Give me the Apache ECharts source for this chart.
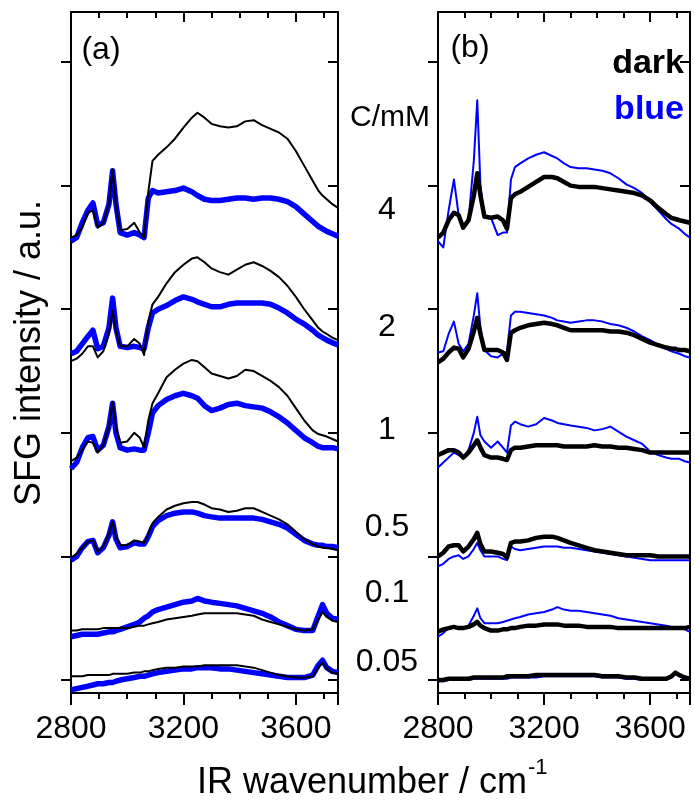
<!DOCTYPE html>
<html><head><meta charset="utf-8">
<script src="https://cdn.jsdelivr.net/npm/echarts@6/dist/echarts.min.js"></script>
<style>html,body{margin:0;padding:0;background:#fff}#c{width:695px;height:803px}</style>
</head><body><div id="c"></div>
<script>
// IR wavenumber sample points (cm-1)
const W = [2800,2820,2840,2860,2878,2895,2915,2935,2948,2960,2975,3000,3025,3045,3060,3075,3090,3110,3140,3170,3200,3230,3250,3275,3300,3330,3360,3390,3420,3450,3480,3510,3540,3570,3600,3630,3660,3680,3695,3710,3730,3750];
const xTicks = [2800,3200,3600];
const concLabels = ['4','2','1','0.5','0.1','0.05'];
// Panel (a): offset SFG spectra
const aDark4 = [3.58,3.60,3.66,3.78,3.80,3.66,3.70,3.85,4.13,3.85,3.64,3.65,3.70,3.62,3.58,3.95,4.20,4.25,4.31,4.38,4.47,4.55,4.59,4.55,4.50,4.48,4.47,4.48,4.52,4.53,4.49,4.46,4.43,4.38,4.28,4.16,4.04,3.96,3.92,3.89,3.85,3.82];
const aBlue4 = [3.55,3.58,3.70,3.80,3.86,3.68,3.70,3.85,4.12,3.85,3.62,3.60,3.62,3.60,3.58,3.90,3.96,3.94,3.95,3.96,3.98,3.95,3.92,3.89,3.88,3.88,3.89,3.90,3.90,3.89,3.90,3.90,3.89,3.87,3.83,3.77,3.71,3.67,3.65,3.63,3.61,3.59];
const aDark2 = [2.58,2.60,2.64,2.70,2.70,2.61,2.66,2.80,2.99,2.82,2.70,2.70,2.76,2.72,2.63,2.90,3.04,3.10,3.21,3.30,3.36,3.41,3.42,3.38,3.33,3.30,3.28,3.32,3.36,3.38,3.35,3.31,3.26,3.19,3.10,3.00,2.91,2.85,2.82,2.80,2.77,2.75];
const aBlue2 = [2.64,2.66,2.72,2.78,2.83,2.68,2.70,2.85,3.09,2.85,2.70,2.69,2.70,2.69,2.68,2.85,2.97,3.00,3.03,3.07,3.10,3.08,3.06,3.04,3.02,3.02,3.04,3.05,3.05,3.05,3.05,3.04,3.01,2.97,2.92,2.88,2.83,2.79,2.77,2.75,2.73,2.71];
const aDark1 = [1.77,1.80,1.86,1.93,1.92,1.84,1.90,2.05,2.25,2.05,1.92,1.93,2.00,1.96,1.88,2.10,2.24,2.32,2.45,2.51,2.56,2.59,2.58,2.53,2.48,2.46,2.44,2.46,2.51,2.50,2.46,2.42,2.37,2.30,2.20,2.10,2.02,1.99,1.98,1.97,1.95,1.93];
const aBlue1 = [1.71,1.76,1.88,1.96,1.97,1.86,1.90,2.05,2.24,2.00,1.88,1.86,1.87,1.86,1.86,2.00,2.16,2.22,2.27,2.30,2.32,2.30,2.28,2.22,2.18,2.20,2.23,2.24,2.22,2.21,2.20,2.17,2.13,2.08,2.02,1.96,1.92,1.89,1.88,1.88,1.88,1.87];
const aDark05 = [0.99,1.02,1.07,1.12,1.13,1.04,1.08,1.18,1.28,1.16,1.09,1.09,1.13,1.12,1.11,1.18,1.27,1.32,1.38,1.41,1.43,1.44,1.44,1.42,1.39,1.38,1.36,1.37,1.39,1.39,1.36,1.33,1.30,1.26,1.20,1.14,1.10,1.08,1.07,1.07,1.06,1.05];
const aBlue05 = [0.97,1.00,1.07,1.12,1.13,1.03,1.07,1.17,1.28,1.14,1.07,1.08,1.11,1.10,1.10,1.16,1.24,1.29,1.33,1.35,1.36,1.36,1.35,1.33,1.32,1.31,1.31,1.31,1.31,1.31,1.30,1.28,1.26,1.23,1.18,1.13,1.10,1.09,1.09,1.08,1.08,1.07];
const aDark01 = [0.40,0.40,0.41,0.41,0.41,0.41,0.42,0.42,0.42,0.42,0.42,0.42,0.43,0.44,0.44,0.45,0.46,0.47,0.49,0.50,0.51,0.52,0.53,0.54,0.54,0.54,0.54,0.54,0.53,0.52,0.49,0.47,0.45,0.43,0.41,0.40,0.41,0.49,0.55,0.51,0.48,0.47];
const aBlue01 = [0.35,0.36,0.37,0.37,0.37,0.37,0.38,0.39,0.39,0.40,0.41,0.43,0.45,0.47,0.50,0.52,0.55,0.57,0.59,0.61,0.63,0.64,0.66,0.64,0.63,0.62,0.61,0.60,0.58,0.56,0.54,0.51,0.47,0.44,0.41,0.40,0.40,0.52,0.61,0.54,0.50,0.49];
const aDark005 = [0.03,0.03,0.03,0.04,0.04,0.04,0.04,0.04,0.05,0.05,0.05,0.05,0.06,0.06,0.07,0.07,0.08,0.09,0.10,0.10,0.11,0.11,0.11,0.12,0.12,0.12,0.12,0.12,0.11,0.10,0.08,0.06,0.04,0.03,0.02,0.02,0.03,0.10,0.14,0.09,0.06,0.05];
const aBlue005 = [-0.08,-0.07,-0.06,-0.05,-0.04,-0.03,-0.03,-0.02,-0.02,-0.01,0.00,0.01,0.02,0.03,0.03,0.04,0.05,0.06,0.07,0.08,0.09,0.09,0.10,0.10,0.10,0.09,0.09,0.08,0.07,0.06,0.05,0.04,0.03,0.02,0.02,0.02,0.04,0.12,0.16,0.10,0.07,0.06];
// Panel (b): offset SFG spectra
const bDark4 = [3.58,3.62,3.72,3.78,3.76,3.66,3.72,3.92,4.10,3.92,3.75,3.74,3.75,3.72,3.65,3.90,3.93,3.95,3.99,4.03,4.07,4.07,4.06,4.03,4.00,3.99,3.99,3.99,3.98,3.97,3.96,3.95,3.94,3.92,3.88,3.82,3.77,3.74,3.73,3.72,3.71,3.70];
const bBlue4 = [3.55,3.50,3.80,4.05,3.76,3.66,3.72,4.20,4.69,4.00,3.74,3.74,3.60,3.62,3.62,4.05,4.15,4.18,4.22,4.25,4.27,4.24,4.22,4.18,4.15,4.14,4.14,4.13,4.12,4.10,4.06,4.01,3.98,3.94,3.87,3.80,3.73,3.69,3.67,3.65,3.61,3.58];
const bDark2 = [2.57,2.60,2.65,2.69,2.68,2.61,2.68,2.82,2.93,2.80,2.67,2.67,2.67,2.65,2.59,2.81,2.83,2.85,2.87,2.88,2.89,2.88,2.87,2.85,2.83,2.83,2.83,2.83,2.83,2.82,2.82,2.81,2.79,2.76,2.73,2.71,2.69,2.68,2.68,2.67,2.67,2.66];
const bBlue2 = [2.65,2.66,2.80,2.90,2.72,2.66,2.72,2.95,3.13,2.85,2.67,2.62,2.61,2.64,2.66,2.95,2.98,2.98,2.97,2.96,2.95,2.93,2.91,2.90,2.89,2.90,2.91,2.91,2.90,2.88,2.87,2.85,2.82,2.78,2.75,2.71,2.68,2.66,2.65,2.64,2.62,2.61];
const bDark1 = [1.82,1.84,1.86,1.86,1.84,1.80,1.84,1.90,1.94,1.88,1.82,1.80,1.80,1.79,1.78,1.86,1.88,1.88,1.89,1.90,1.90,1.90,1.90,1.89,1.89,1.89,1.89,1.90,1.89,1.89,1.88,1.88,1.87,1.86,1.84,1.84,1.84,1.84,1.84,1.84,1.84,1.84];
const bBlue1 = [1.72,1.76,1.80,1.84,1.82,1.80,1.86,2.00,2.13,1.98,1.93,1.88,1.93,1.88,1.84,2.06,2.09,2.07,2.05,2.07,2.12,2.10,2.08,2.07,2.06,2.05,2.04,2.02,2.03,2.05,2.01,1.97,1.94,1.91,1.85,1.82,1.80,1.79,1.79,1.79,1.77,1.76];
const bDark05 = [1.00,1.03,1.08,1.09,1.09,1.04,1.08,1.14,1.19,1.10,1.04,1.04,1.03,1.02,0.99,1.11,1.12,1.12,1.13,1.15,1.16,1.16,1.15,1.13,1.11,1.09,1.07,1.05,1.04,1.03,1.02,1.01,1.01,1.01,1.01,1.00,1.00,1.00,1.00,1.00,1.00,1.00];
const bBlue05 = [0.92,0.94,0.98,1.00,1.01,0.98,1.00,1.06,1.11,1.05,1.00,1.00,1.00,0.98,0.97,1.08,1.06,1.05,1.06,1.07,1.08,1.08,1.08,1.07,1.07,1.06,1.05,1.04,1.03,1.02,1.01,1.00,0.99,0.98,0.97,0.97,0.97,0.97,0.97,0.97,0.97,0.97];
const bDark01 = [0.39,0.41,0.42,0.43,0.42,0.42,0.43,0.45,0.47,0.44,0.42,0.40,0.40,0.41,0.41,0.42,0.42,0.43,0.44,0.44,0.45,0.45,0.45,0.44,0.44,0.44,0.43,0.43,0.43,0.43,0.42,0.42,0.42,0.42,0.42,0.42,0.42,0.42,0.42,0.42,0.42,0.43];
const bBlue01 = [0.35,0.38,0.42,0.43,0.43,0.42,0.44,0.52,0.58,0.50,0.46,0.46,0.46,0.47,0.48,0.49,0.50,0.51,0.53,0.54,0.55,0.57,0.59,0.57,0.56,0.56,0.55,0.54,0.53,0.52,0.50,0.49,0.48,0.47,0.46,0.45,0.44,0.43,0.43,0.43,0.41,0.39];
const bDark005 = [0.00,0.00,0.01,0.01,0.01,0.01,0.01,0.02,0.02,0.02,0.02,0.02,0.02,0.02,0.03,0.03,0.03,0.03,0.03,0.04,0.04,0.04,0.04,0.04,0.04,0.04,0.04,0.04,0.03,0.03,0.03,0.02,0.02,0.01,0.01,0.01,0.01,0.03,0.06,0.04,0.02,0.01];
const bBlue005 = [-0.01,-0.01,0.00,0.00,0.00,0.00,0.00,0.01,0.01,0.01,0.01,0.01,0.01,0.01,0.01,0.02,0.02,0.02,0.02,0.02,0.03,0.03,0.03,0.03,0.03,0.03,0.03,0.03,0.02,0.02,0.02,0.01,0.01,0.00,0.00,0.00,0.00,0.02,0.05,0.03,0.01,0.00];

const FONT = "'Liberation Sans', Arial, sans-serif";
const BLUE = '#0000ff';
const YMIN = -0.105, YMAX = 5.405, XMIN = 2800, XMAX = 3750;
const yTickVals = [0,1,2,3,4,5];

function pair(arr){ return W.map((w,i)=>[w,arr[i]]); }
function line(arr, color, width, gi){
  return {type:'line', xAxisIndex:gi*2, yAxisIndex:gi*2, data:pair(arr), showSymbol:false, symbol:'none', silent:true,
    lineStyle:{color:color, width:width, join:'round'}, z: color===BLUE?2:3, animation:false};
}
function xAxes(gi){
  const common = {type:'value', gridIndex:gi, min:XMIN, max:XMAX, interval:400, splitLine:{show:false},
    axisLine:{show:true, onZero:false, lineStyle:{color:'#000', width:2}}};
  return [
    Object.assign({}, common, {position:'bottom',
      axisTick:{show:true, inside:false, length:12, lineStyle:{color:'#000', width:2}},
      minorTick:{show:true, splitNumber:4, length:6, lineStyle:{color:'#000', width:2}},
      axisLabel:{show:true, margin:20, color:'#000', fontSize:32, fontFamily:FONT, customValues:xTicks, formatter:function(v){return String(v);}}}),
    Object.assign({}, common, {position:'top',
      axisTick:{show:true, inside:true, length:10, lineStyle:{color:'#000', width:2}},
      minorTick:{show:true, splitNumber:4, length:6, lineStyle:{color:'#000', width:2}},
      axisLabel:{show:false}})
  ];
}
function yAxes(gi){
  const common = {type:'value', gridIndex:gi, min:YMIN, max:YMAX, splitLine:{show:false}, axisLabel:{show:false},
    axisLine:{show:true, onZero:false, lineStyle:{color:'#000', width:2}}};
  return [
    Object.assign({}, common, {position:'left', axisTick:{show:true, inside:false, length:10, customValues:yTickVals, lineStyle:{color:'#000', width:2}}}),
    Object.assign({}, common, {position:'right', axisTick:{show:true, inside:true, length:10, customValues:yTickVals, lineStyle:{color:'#000', width:2}}})
  ];
}
const aPairs = [[aBlue4,aDark4],[aBlue2,aDark2],[aBlue1,aDark1],[aBlue05,aDark05],[aBlue01,aDark01],[aBlue005,aDark005]];
const bPairs = [[bBlue4,bDark4],[bBlue2,bDark2],[bBlue1,bDark1],[bBlue05,bDark05],[bBlue01,bDark01],[bBlue005,bDark005]];
const series = [];
aPairs.forEach(p=>{ series.push(line(p[0], BLUE, 5.5, 0)); });
aPairs.forEach(p=>{ series.push(line(p[1], '#000', 2, 0)); });
bPairs.forEach(p=>{ series.push(line(p[0], BLUE, 2, 1)); });
bPairs.forEach(p=>{ series.push(line(p[1], '#000', 4.5, 1)); });

const concY = [210, 327, 430, 527, 593, 662];
const graphics = [
  {type:'text', x:101, y:50, style:{text:'(a)', font:'32px '+FONT, fill:'#000', textAlign:'center', textVerticalAlign:'middle'}},
  {type:'text', x:470, y:48, style:{text:'(b)', font:'32px '+FONT, fill:'#000', textAlign:'center', textVerticalAlign:'middle'}},
  {type:'text', x:390, y:118, style:{text:'C/mM', font:'30px '+FONT, fill:'#000', textAlign:'center', textVerticalAlign:'middle'}},
  {type:'text', x:684, y:64, style:{text:'dark', font:'bold 34px '+FONT, fill:'#000', textAlign:'right', textVerticalAlign:'middle'}},
  {type:'text', x:684, y:110, style:{text:'blue', font:'bold 34px '+FONT, fill:BLUE, textAlign:'right', textVerticalAlign:'middle'}},
  {type:'text', x:30, y:353, rotation:Math.PI/2, style:{text:'SFG intensity / a.u.', font:'36px '+FONT, fill:'#000', textAlign:'center', textVerticalAlign:'middle'}},
  {type:'text', x:362, y:783, style:{text:'IR wavenumber / cm', font:'36px '+FONT, fill:'#000', textAlign:'center', textVerticalAlign:'middle'}},
  {type:'text', x:528, y:768, style:{text:'-1', font:'22px '+FONT, fill:'#000', textAlign:'left', textVerticalAlign:'middle'}}
];
concLabels.forEach((t,i)=>{
  graphics.push({type:'text', x:387, y:concY[i], style:{text:t, font:'32px '+FONT, fill:'#000', textAlign:'center', textVerticalAlign:'middle'}});
});

const chart = echarts.init(document.getElementById('c'), null, {renderer:'canvas'});
chart.setOption({
  animation:false,
  backgroundColor:'#fff',
  grid:[{left:71, right:357, top:12, bottom:110}, {left:438, right:5, top:12, bottom:110}],
  xAxis:[...xAxes(0), ...xAxes(1)],
  yAxis:[...yAxes(0), ...yAxes(1)],
  series:series,
  graphic:graphics
});
</script></body></html>
